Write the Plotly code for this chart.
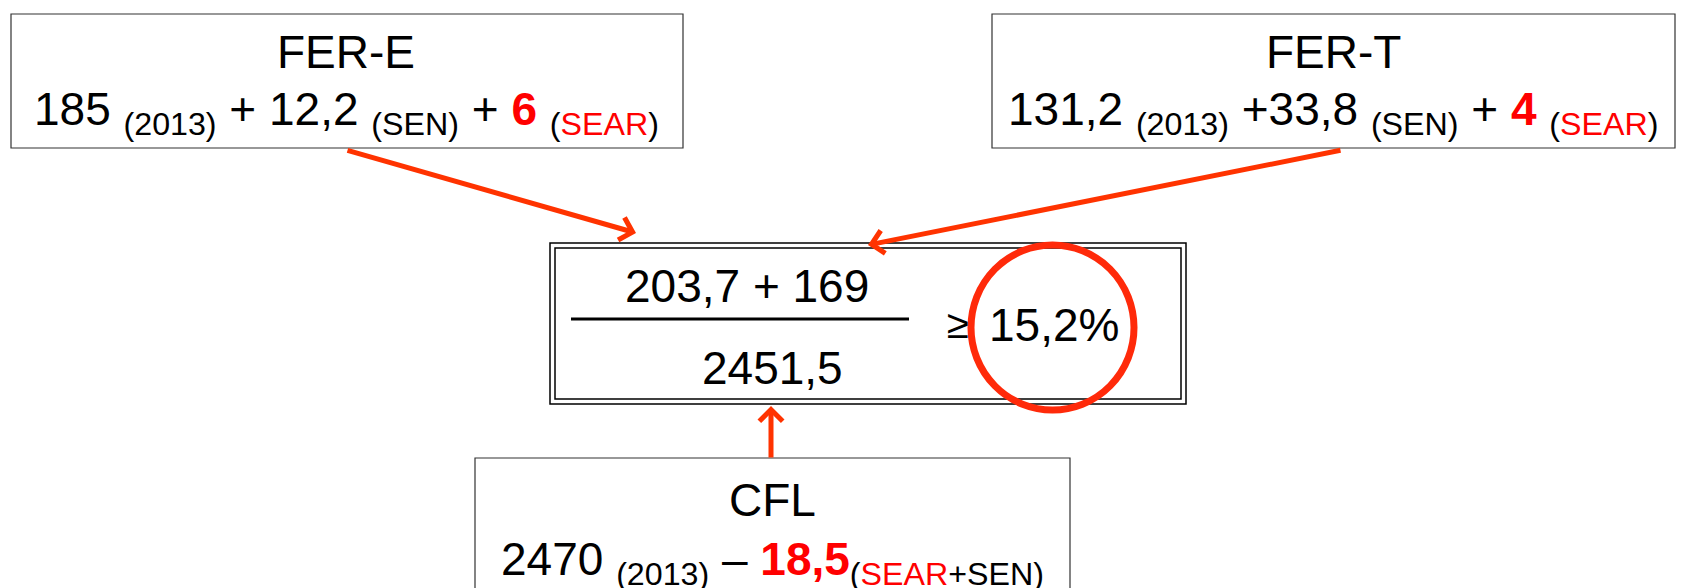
import plotly.graph_objects as go

# ---- content ----
titles = ["FER-E", "FER-T", "CFL"]
base_2013 = ["185", "131,2", "2470"]
sen_values = ["12,2", "33,8"]
sear_values = ["6", "4"]
cfl_reduction = "18,5"
numerator = "203,7 + 169"
denominator = "2451,5"
result = "15,2%"

W, H = 1681, 588
FONT = "Liberation Sans, Arial, Helvetica, sans-serif"
RED = "#FF0000"
ARROW = "#FF3300"
RING = "#FF2A0A"

fig = go.Figure()
shapes = []
ann = []

def rect(x0, y0, x1, y1, w=1.2, c="#333333"):
    shapes.append(dict(type="rect", xref="x", yref="y", x0=x0, y0=y0, x1=x1, y1=y1,
                       line=dict(color=c, width=w), fillcolor="rgba(0,0,0,0)"))

def text(x, y, s, size=46, xanchor="center", yanchor="middle"):
    ann.append(dict(x=x, y=y, xref="x", yref="y", text=s, showarrow=False,
                    xanchor=xanchor, yanchor=yanchor,
                    font=dict(family=FONT, size=size, color="black")))

def arrow(x0, y0, x1, y1):
    ann.append(dict(x=x1, y=y1, ax=x0, ay=y0, xref="x", yref="y", axref="x", ayref="y",
                    text="", showarrow=True, arrowhead=4, arrowsize=0.9, arrowwidth=5,
                    arrowcolor=ARROW, standoff=0))

red = lambda s: f'<span style="color:{RED}">{s}</span>'

# boxes
rect(11, 14, 683, 148)
rect(992, 14, 1675, 148)
rect(475, 458, 1070, 620)
rect(550, 243, 1186, 404, w=1.5, c="black")
rect(555, 248, 1181, 399, w=1.5, c="black")

# FER-E
text(346, 52, titles[0])
text(346, 112, f"{base_2013[0]} <sub>(2013)</sub> + {sen_values[0]} <sub>(SEN)</sub> + "
               f"<b>{red(sear_values[0])}</b> <sub>({red('SEAR')})</sub>")
# FER-T
text(1333, 52, titles[1])
text(1333, 112, f"{base_2013[1]} <sub>(2013)</sub> +{sen_values[1]} <sub>(SEN)</sub> + "
                f"<b>{red(sear_values[1])}</b> <sub>({red('SEAR')})</sub>")
# CFL
text(772, 500, titles[2])
text(772, 562, f"{base_2013[2]} <sub>(2013)</sub> – <b>{red(cfl_reduction)}</b>"
               f"<sub>({red('SEAR')}+SEN)</sub>")

# fraction
text(747, 286, numerator)
shapes.append(dict(type="line", xref="x", yref="y", x0=571, x1=909, y0=319, y1=319,
                   line=dict(color="black", width=3)))
text(772, 368, denominator)
text(958, 324, "≥", size=40)
text(1054, 325, result)
shapes.append(dict(type="circle", xref="x", yref="y", x0=971, x1=1134, y0=245, y1=410,
                   line=dict(color=RING, width=7)))

# arrows
arrow(346, 150, 636, 233)
arrow(1342, 150, 868, 245)
arrow(771, 459, 771, 406)

fig.update_layout(
    width=W, height=H, margin=dict(l=0, r=0, t=0, b=0),
    paper_bgcolor="white", plot_bgcolor="white",
    xaxis=dict(range=[0, W], visible=False, fixedrange=True),
    yaxis=dict(range=[H, 0], visible=False, fixedrange=True),
    shapes=shapes, annotations=ann, showlegend=False,
)
fig.write_html("out.html", config={"displayModeBar": False},
               post_script="document.body.style.margin='0';document.body.style.overflow='hidden';")
